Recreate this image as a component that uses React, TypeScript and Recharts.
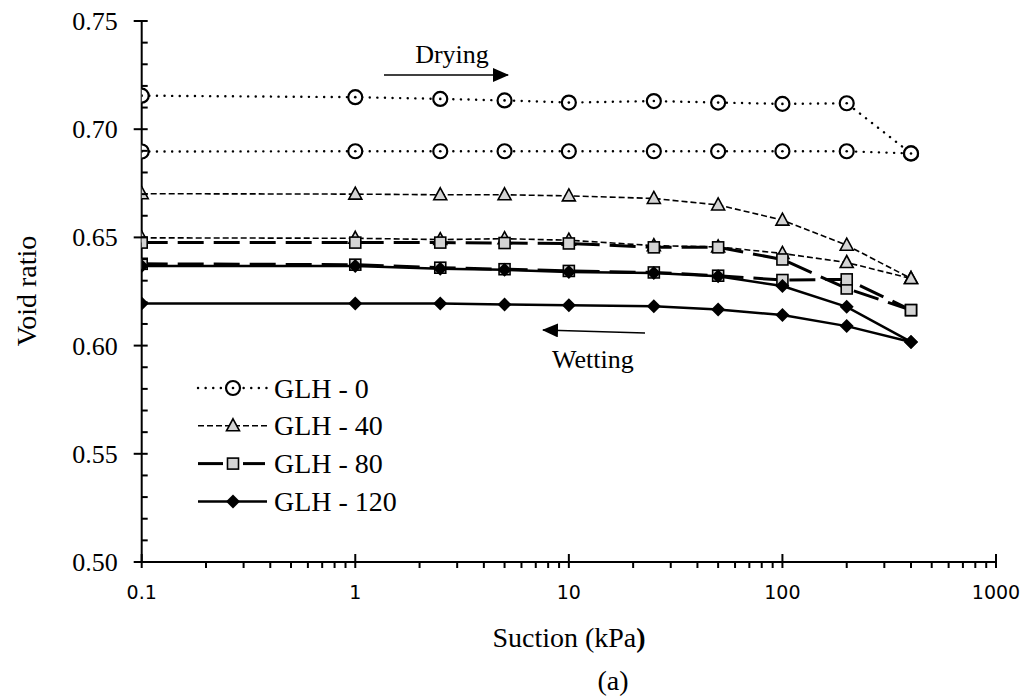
import React from "react"
import { ComposedChart, Line, XAxis, YAxis, Legend } from "recharts"

const SUCTION = [0.1, 1, 2.5, 5, 10, 25, 50, 100, 200, 400]

const GLH0_DRYING = [0.7155, 0.7148, 0.714, 0.7133, 0.7123, 0.713, 0.7123, 0.7117, 0.712, 0.6888]
const GLH0_WETTING = [0.6897, 0.6898, 0.6898, 0.6898, 0.6898, 0.6898, 0.6898, 0.6898, 0.6898, 0.6888]
const GLH40_DRYING = [0.6702, 0.67, 0.6697, 0.6697, 0.6692, 0.668, 0.665, 0.658, 0.6464, 0.631]
const GLH40_WETTING = [0.6498, 0.6496, 0.649, 0.6494, 0.6487, 0.6462, 0.6456, 0.6426, 0.6384, 0.631]
const GLH80_DRYING = [0.6476, 0.6476, 0.6476, 0.6474, 0.6472, 0.6454, 0.6454, 0.6398, 0.6264, 0.6164]
const GLH80_WETTING = [0.6378, 0.6374, 0.636, 0.6353, 0.6345, 0.6338, 0.6323, 0.6303, 0.6306, 0.6164]
const GLH120_DRYING = [0.6368, 0.6368, 0.6355, 0.635, 0.634, 0.6335, 0.632, 0.6275, 0.6179, 0.6017]
const GLH120_WETTING = [0.6195, 0.6195, 0.6195, 0.619, 0.6187, 0.6182, 0.6167, 0.6141, 0.609, 0.6017]

const X_TICKS = [0.1, 1, 10, 100, 1000]
const X_LABELS = ["0.1", "1", "10", "100", "1000"]
const Y_TICKS = [0.5, 0.55, 0.6, 0.65, 0.7, 0.75]

const SERIES = ["GLH - 0", "GLH - 40", "GLH - 80", "GLH - 120"]

const SERIF = "'Liberation Serif', 'Times New Roman', serif"
const SANS = "'DejaVu Sans', Verdana, sans-serif"
const GREY = "#d4d4d4"

// minor ticks (2..9 in each decade), majors kept separate
const xMinor: number[] = []
X_TICKS.slice(0, -1).forEach((d) => {
  for (let m = 2; m <= 9; m++) xMinor.push(d * m)
})
const xAllTicks = [...X_TICKS, ...xMinor].sort((a, b) => a - b)

const yAllTicks: number[] = []
for (let i = 0; i <= 25; i++) yAllTicks.push(Math.round((0.5 + i * 0.01) * 100) / 100)

const toRows = (vals: number[]) => SUCTION.map((s, i) => ({ s, e: vals[i] }))

const Circle = ({ cx, cy }: { cx: number; cy: number }) => (
  <g>
    <circle cx={cx} cy={cy} r={7} fill="#fff" stroke="#000" strokeWidth={2.2} />
    <circle cx={cx} cy={cy} r={1.3} fill="#000" />
  </g>
)
const Tri = ({ cx, cy }: { cx: number; cy: number }) => (
  <path d={`M${cx},${cy - 7} L${cx + 6.5},${cy + 5} L${cx - 6.5},${cy + 5} Z`} fill={GREY} stroke="#000" strokeWidth={1.6} />
)
const Sq = ({ cx, cy }: { cx: number; cy: number }) => (
  <rect x={cx - 5.5} y={cy - 5.5} width={11} height={11} fill={GREY} stroke="#000" strokeWidth={1.6} />
)
const Dia = ({ cx, cy }: { cx: number; cy: number }) => (
  <path d={`M${cx},${cy - 7} L${cx + 7},${cy} L${cx},${cy + 7} L${cx - 7},${cy} Z`} fill="#000" />
)

const MARKERS = [Circle, Tri, Sq, Dia]
const STYLES = [
  { strokeWidth: 2.4, strokeDasharray: "0.1 7.5", strokeLinecap: "round" as const },
  { strokeWidth: 1.6, strokeDasharray: "6 3" },
  { strokeWidth: 3, strokeDasharray: "26 10" },
  { strokeWidth: 2.5 },
]

const dotFor = (idx: number) => (p: any) => {
  const M = MARKERS[idx]
  return <M key={`d-${idx}-${p.index}`} cx={p.cx} cy={p.cy} />
}

const XTick = ({ x, y, payload }: any) => {
  const v = payload.value
  const k = X_TICKS.indexOf(v)
  const major = k >= 0
  return (
    <g>
      <line x1={x} x2={x} y1={major ? y - 8 : y} y2={y + 6} stroke="#000" strokeWidth={2} />
      {major && (
        <text x={x} y={y + 37} textAnchor="middle" fontFamily={SANS} fontSize={19} fill="#000">
          {X_LABELS[k]}
        </text>
      )}
    </g>
  )
}

const YTick = ({ x, y, payload }: any) => {
  const v = payload.value
  const major = Math.round(v * 100) % 5 === 0
  return (
    <g>
      <line x1={major ? x - 8 : x} x2={x + 6} y1={y} y2={y} stroke="#000" strokeWidth={2} />
      {major && (
        <text x={x - 24} y={y + 9} textAnchor="end" fontFamily={SERIF} fontSize={26} fill="#000">
          {v.toFixed(2)}
        </text>
      )}
    </g>
  )
}

const LegendBox = () => (
  <svg width={240} height={160}>
    {SERIES.map((name, i) => {
      const cy = 20 + i * 37.8
      const M = MARKERS[i]
      const st = STYLES[i]
      return (
        <g key={name}>
          {i === 2 ? (
            <>
              <line x1={8} x2={33} y1={cy} y2={cy} stroke="#000" strokeWidth={3} />
              <line x1={53} x2={75} y1={cy} y2={cy} stroke="#000" strokeWidth={3} />
            </>
          ) : (
            <line x1={8} x2={77} y1={cy} y2={cy} stroke="#000" {...st} />
          )}
          <M cx={43} cy={cy} />
          <text x={84} y={cy + 9.5} fontFamily={SERIF} fontSize={28} fill="#000">
            {name}
          </text>
        </g>
      )
    })}
  </svg>
)

const LINES = [
  { key: "g0d", vals: GLH0_DRYING, s: 0 },
  { key: "g0w", vals: GLH0_WETTING, s: 0 },
  { key: "g40d", vals: GLH40_DRYING, s: 1 },
  { key: "g40w", vals: GLH40_WETTING, s: 1 },
  { key: "g80d", vals: GLH80_DRYING, s: 2 },
  { key: "g80w", vals: GLH80_WETTING, s: 2 },
  { key: "g120d", vals: GLH120_DRYING, s: 3 },
  { key: "g120w", vals: GLH120_WETTING, s: 3 },
]

export default function App() {
  return (
    <div style={{ position: "absolute", left: 0, top: 0, width: 1022, height: 698, background: "#fff" }}>
      <ComposedChart width={1022} height={698} margin={{ top: 21, right: 26, left: 0, bottom: 0 }}>
        <XAxis
          dataKey="s"
          type="number"
          scale="log"
          domain={[0.1, 1000]}
          ticks={xAllTicks}
          interval={0}
          allowDataOverflow
          height={136}
          tickSize={0}
          tickMargin={0}
          tickLine={false}
          axisLine={{ stroke: "#000", strokeWidth: 2 }}
          tick={<XTick />}
        />
        <YAxis
          type="number"
          domain={[0.5, 0.75]}
          ticks={yAllTicks}
          interval={0}
          allowDataOverflow
          width={141.7}
          tickSize={0}
          tickMargin={0}
          tickLine={false}
          axisLine={{ stroke: "#000", strokeWidth: 2 }}
          tick={<YTick />}
        />
        <Legend
          layout="vertical"
          align="center"
          verticalAlign="middle"
          content={() => <LegendBox />}
          wrapperStyle={{ left: 190, top: 368, width: 240, height: 160 }}
        />
        {LINES.map((l) => (
          <Line
            key={l.key}
            data={toRows(l.vals)}
            dataKey="e"
            type="linear"
            stroke="#000"
            {...STYLES[l.s]}
            dot={dotFor(l.s)}
            activeDot={false}
            legendType="none"
            isAnimationActive={false}
          />
        ))}
      </ComposedChart>
      <svg width={1022} height={698} style={{ position: "absolute", left: 0, top: 0, pointerEvents: "none" }}>
        <defs>
          <marker id="ah" markerWidth="16" markerHeight="14" refX="15" refY="7" orient="auto" markerUnits="userSpaceOnUse">
            <path d="M0,0 L16,7 L0,14 Z" fill="#000" />
          </marker>
        </defs>
        <text x={452} y={63} textAnchor="middle" fontFamily={SERIF} fontSize={26} fill="#000">Drying</text>
        <line x1={384} y1={75} x2={508} y2={75} stroke="#000" strokeWidth={1.3} markerEnd="url(#ah)" />
        <line x1={645} y1={333} x2={543} y2={330} stroke="#000" strokeWidth={1.3} markerEnd="url(#ah)" />
        <text x={552} y={368} fontFamily={SERIF} fontSize={26} fill="#000">Wetting</text>
        <text transform="translate(36,291) rotate(-90)" textAnchor="middle" fontFamily={SERIF} fontSize={28} fill="#000">Void ratio</text>
        <text x={569} y={647} textAnchor="middle" fontFamily={SERIF} fontSize={28} fill="#000">
          Suction (kPa<tspan fontWeight="bold">)</tspan>
        </text>
        <text x={613} y={690} textAnchor="middle" fontFamily={SERIF} fontSize={28} fill="#000">(a)</text>
      </svg>
    </div>
  )
}
